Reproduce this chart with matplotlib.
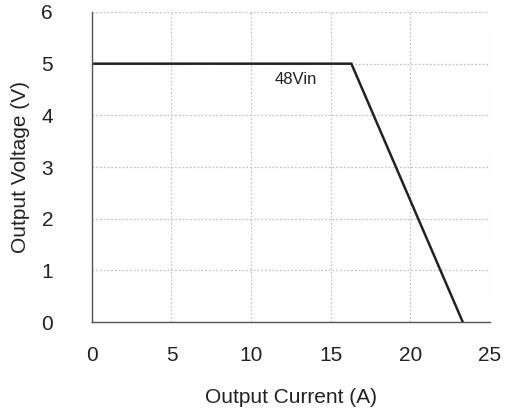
import matplotlib
matplotlib.use('Agg')
import matplotlib.pyplot as plt

# Curva de limitación de corriente
corriente = [0, 16.3, 23.3]
voltaje = [5, 5, 0]
etiqueta = '48Vin'

plt.rcParams['font.family'] = ['Liberation Sans', 'DejaVu Sans']

fig = plt.figure(figsize=(5.05, 4.13), dpi=100)
ax = fig.add_axes([0.182, 0.220, 0.788, 0.751])

ax.plot(corriente, voltaje, color='#222222', linewidth=1.8, solid_joinstyle='miter')
ax.text(12.8, 4.70, etiqueta, fontsize=12, ha='center', va='center', color='#222222')

ax.set_xlim(0, 25)
ax.set_ylim(0, 6)
ax.set_xticks(range(0, 26, 5))
ax.set_yticks(range(0, 7))
ax.grid(True, color='#c4c4c4', linestyle=(0, (1.5, 1.5)), linewidth=0.9)
ax.tick_params(length=0, labelsize=15, colors='#222222')
ax.tick_params(axis='x', pad=17)
ax.tick_params(axis='y', pad=28)

for s in ['top', 'right']:
    ax.spines[s].set_visible(False)
for s in ['left', 'bottom']:
    ax.spines[s].set_color('#555555')
    ax.spines[s].set_linewidth(1.0)

ax.set_xlabel('Output Current (A)', fontsize=15, labelpad=17, color='#222222')
ax.set_ylabel('Output Voltage (V)', fontsize=15, labelpad=8, color='#222222')

fig.savefig('out.png', dpi=100)
